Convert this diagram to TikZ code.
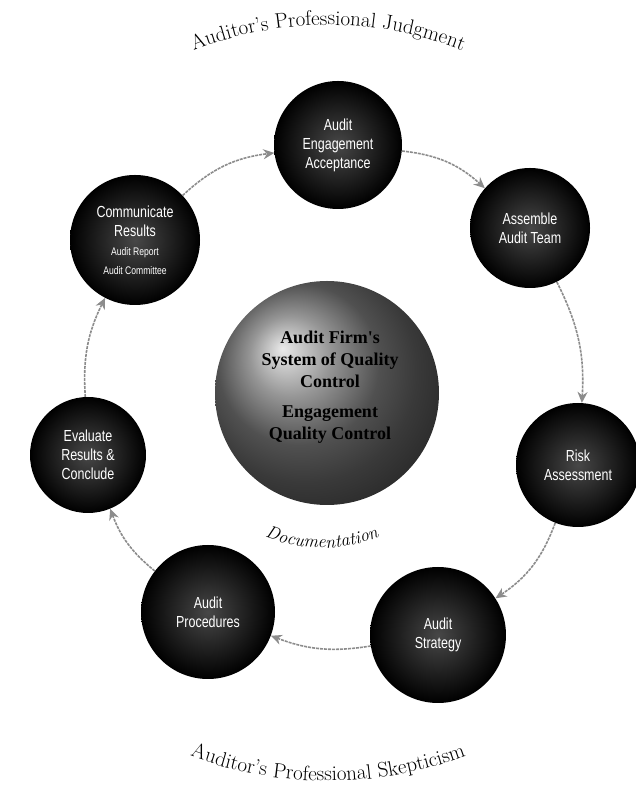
\documentclass[tikz,border=0pt]{standalone}
\usepackage{fontspec}
\newfontfamily\condfont[FakeStretch=0.78]{Liberation Sans}
\newfontfamily\serfont{Liberation Serif}
\usetikzlibrary{arrows.meta,decorations.text,shadings}
\begin{document}
\begin{tikzpicture}[x=1pt,y=1pt,
  stage/.style={circle,minimum size=#1,inner sep=0pt,align=center,
    text=white,font=\condfont\fontsize{16}{19}\selectfont,
    inner color=black!72,outer color=black},
  conn/.style={draw=black!45,line width=1.6pt,dash pattern=on 3pt off 1pt,
    -{Stealth[length=11pt,width=10pt,fill=black!45]}}
]
\useasboundingbox (0,0) rectangle (636,795);
% centre sphere
\node[circle,minimum size=224pt,inner sep=0pt,shading=ball,ball color=black!55] (core) at (327,402) {};
\node[align=center,font=\serfont\bfseries\fontsize{18}{22}\selectfont] (coretext) at (330,408)
  {Audit Firm's\\System of Quality\\Control\\[8pt]Engagement\\Quality Control};
% stages
\node[stage=128pt] (eng) at (338,650) {Audit\\Engagement\\Acceptance};
\node[stage=120pt] (asm) at (530,567) {Assemble\\Audit Team};
\node[stage=124pt] (risk) at (578,330) {Risk\\Assessment};
\node[stage=136pt] (strat) at (438,160) {Audit\\Strategy};
\node[stage=134pt] (proc) at (208,183) {Audit\\Procedures};
\node[stage=116pt] (eval) at (88,340) {Evaluate\\Results \&\\Conclude};
\node[stage=130pt] (comm) at (135,555) {Communicate\\Results\\{\fontsize{11}{13}\selectfont Audit Report}\\{\fontsize{11}{13}\selectfont Audit Committee}};
% connectors
\draw[conn] (comm) to[bend left=18] (eng);
\draw[conn] (eng) to[bend left=18] (asm);
\draw[conn] (asm) to[bend left=15] (risk);
\draw[conn] (risk) to[bend left=18] (strat);
\draw[conn] (strat) to[bend left=15] (proc);
\draw[conn] (proc) to[bend left=15] (eval);
\draw[conn] (eval) to[bend left=15] (comm);
% curved texts
\coordinate (ringc) at (328,405);
\coordinate (docc) at (322,397);
\path[decorate,decoration={text along path,text align=center,
  text={|\fontsize{21}{21}\selectfont|Auditor's Professional Judgment}}]
  (ringc) ++(125:365) arc[start angle=125,end angle=55,radius=365];
\path[decorate,decoration={text along path,text align=center,
  text={|\fontsize{21}{21}\selectfont|Auditor's Professional Skepticism}}]
  (ringc) ++(235:391) arc[start angle=235,end angle=305,radius=391];
\path[decorate,decoration={text along path,text align=center,
  text={|\itshape\fontsize{18}{18}\selectfont|Documentation}}]
  (docc) ++(235:150) arc[start angle=235,end angle=305,radius=150];
\end{tikzpicture}
\end{document}
